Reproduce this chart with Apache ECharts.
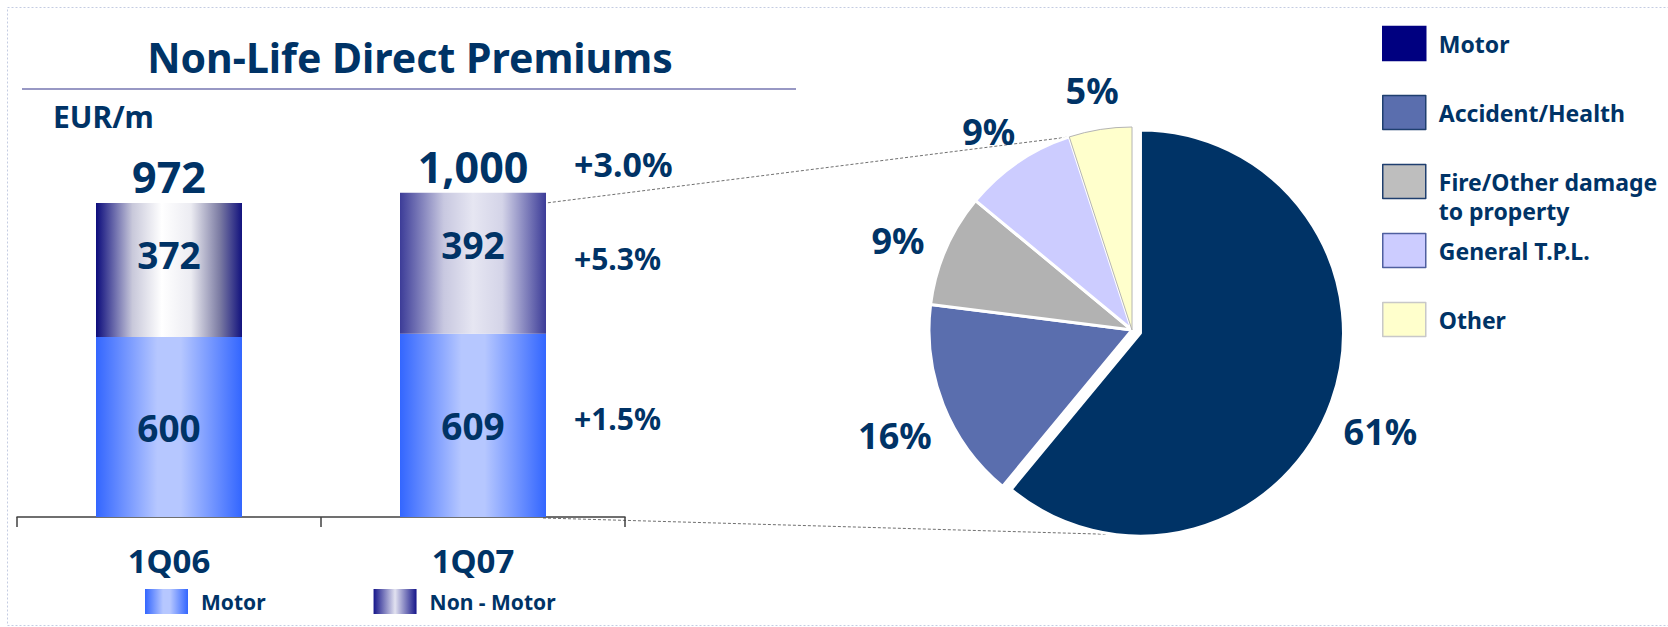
<!DOCTYPE html>
<html>
<head>
<meta charset="utf-8">
<title>Non-Life Direct Premiums</title>
<script src="https://cdn.jsdelivr.net/npm/echarts@6/dist/echarts.min.js"></script>
<style>
  html, body { margin: 0; padding: 0; background: #ffffff; }
  #chart { width: 1668px; height: 627px; }
</style>
</head>
<body>
<div id="chart"></div>
<script>
// Quarterly premiums, EUR million
const categories = ['1Q06', '1Q07'];
const motorPremiums = [600, 609];
const nonMotorPremiums = [372, 392];
const totalPremiums = [972, 1000];
// Year-on-year growth for 1Q07: motor, non-motor, total
const growthLabels = ['+1.5%', '+5.3%', '+3.0%'];

// 1Q07 business mix (% of premiums)
const lineNames = ['Motor', 'Accident/Health', 'Fire/Other damage\nto property', 'General T.P.L.', 'Other'];
const lineShares = [61, 16, 9, 9, 5];

const NAVY = '#003366';
const FONT = '"Noto Sans", "DejaVu Sans", sans-serif';

const pieColors = ['#003366', '#5a6eae', '#b2b2b2', '#ccccff', '#ffffcc'];
const pieLegendColors = ['#000080', '#5a6eae', '#bebebe', '#ccccff', '#ffffcc'];
const pieLegendBorders = ['#000080', '#1f3f6f', '#1f3f6f', '#4f5f9f', '#c8c8c8'];

const grad = (stops) => new echarts.graphic.LinearGradient(0, 0, 1, 0,
  stops.map(([offset, color]) => ({ offset, color })));

const motorFill = grad([[0, '#3366ff'], [0.42, '#b6c7ff'], [0.58, '#b6c7ff'], [1, '#3366ff']]);
const nonMotorFillA = grad([[0, '#0c0c7c'], [0.25, '#c8c8da'], [0.45, '#ffffff'], [0.65, '#ececf2'], [0.85, '#7a7aa2'], [1, '#12127e']]);
const nonMotorFillB = grad([[0, '#3c3c98'], [0.3, '#c8c8e0'], [0.5, '#e6e6f2'], [0.7, '#d4d4e8'], [1, '#3c3c98']]);
const nonMotorLegendFill = grad([[0, '#16168a'], [0.5, '#e2e2f0'], [1, '#16168a']]);
const nonMotorFills = [nonMotorFillA, nonMotorFillB];

const PIE_CENTER = [1132, 330];
const PIE_R = 203;
const PIE_OFFSET = 9;
// percentage labels sit on a ring just outside the pie
const LABEL_CENTER = [1132, 342];
const LABEL_RADIUS = 252;

// Pie legend rows: each row's text box is padded to the same height so that
// the two-line entry does not push the rows below it; rows are 69px apart.
// A multi-line entry starts with a blank line so its first line sits level
// with the swatch.
const LEGEND_ROW_BOX = 87;
const LEGEND_LINE = 29;
const legendText = (name) => (name.indexOf('\n') >= 0 ? '\n' + name : name);
const legendPadding = (name) => {
  const lines = legendText(name).split('\n').length;
  const pad = (LEGEND_ROW_BOX - LEGEND_LINE * lines) / 2;
  return [pad, 0, pad, 8];
};

const chart = echarts.init(document.getElementById('chart'), null, { renderer: 'svg' });

const textBase = { fontFamily: FONT, fontWeight: 'bold', color: NAVY };

const option = {
  animation: false,
  backgroundColor: '#ffffff',
  grid: { left: 17, top: 157, width: 608, height: 360, containLabel: false },
  xAxis: {
    type: 'category',
    data: categories,
    axisLine: { lineStyle: { color: '#404040', width: 1.5 } },
    axisTick: { show: true, length: 10, interval: 0, lineStyle: { color: '#404040', width: 1.5 } },
    axisLabel: Object.assign({ margin: 27, fontSize: 33 }, textBase)
  },
  yAxis: {
    type: 'value', min: 100, max: 1100, show: false,
    splitLine: { show: false }
  },
  legend: [
    {
      data: ['Motor', 'Non - Motor'],
      left: 145, top: 589, padding: 0,
      itemWidth: 43, itemHeight: 25, itemGap: 108,
      icon: 'rect', selectedMode: false,
      textStyle: Object.assign({ fontSize: 21, padding: [0, 0, 0, 8] }, textBase)
    },
    {
      orient: 'vertical',
      left: 1382, top: 0, padding: 0,
      itemWidth: 43, itemHeight: 34, itemGap: 69 - LEGEND_ROW_BOX,
      icon: 'rect', selectedMode: false,
      formatter: legendText,
      data: lineNames.map((name, i) => ({
        name,
        itemStyle: { color: pieLegendColors[i], borderColor: pieLegendBorders[i], borderWidth: 1.5 },
        textStyle: { padding: legendPadding(name) }
      })),
      textStyle: Object.assign({ fontSize: 23, lineHeight: LEGEND_LINE }, textBase)
    }
  ],
  series: [
    {
      name: 'Motor', type: 'bar', stack: 'premiums', barWidth: 146,
      data: motorPremiums,
      itemStyle: { color: motorFill },
      label: Object.assign({ show: true, position: 'inside', fontSize: 37 }, textBase),
      emphasis: { disabled: true }
    },
    {
      name: 'Non - Motor', type: 'bar', stack: 'premiums', barWidth: 146,
      data: nonMotorPremiums.map((v, i) => ({ value: v, itemStyle: { color: nonMotorFills[i] } })),
      itemStyle: { color: nonMotorLegendFill },
      label: Object.assign({ show: true, position: 'insideTop', distance: 33, fontSize: 37 }, textBase),
      emphasis: { disabled: true }
    },
    {
      name: 'Total', type: 'bar', stack: 'premiums', barWidth: 146,
      data: totalPremiums.map(() => 0),
      itemStyle: { color: 'rgba(0,0,0,0)' },
      label: Object.assign({
        show: true, position: 'top', distance: 5, fontSize: 43,
        formatter: (p) => totalPremiums[p.dataIndex].toLocaleString('en-US')
      }, textBase),
      emphasis: { disabled: true }
    },
    {
      name: 'Business mix', type: 'pie',
      center: PIE_CENTER, radius: PIE_R,
      startAngle: 90, clockwise: true,
      selectedMode: 'single', selectedOffset: PIE_OFFSET,
      avoidLabelOverlap: false,
      label: { show: false }, labelLine: { show: false },
      emphasis: { disabled: true },
      itemStyle: { borderColor: '#ffffff', borderWidth: 3 },
      data: lineShares.map((v, i) => ({
        name: lineNames[i], value: v, selected: i === 0,
        itemStyle: i === lineShares.length - 1
          ? { color: pieColors[i], borderColor: '#b4b4b4', borderWidth: 1 }
          : { color: pieColors[i] }
      }))
    },
    {
      name: 'Business mix labels', type: 'pie', silent: true,
      center: LABEL_CENTER, radius: [LABEL_RADIUS - 40, LABEL_RADIUS + 40],
      startAngle: 90, clockwise: true,
      selectedMode: 'single', selectedOffset: PIE_OFFSET,
      avoidLabelOverlap: false,
      itemStyle: { color: 'rgba(0,0,0,0)', borderWidth: 0 },
      labelLine: { show: false },
      label: Object.assign({
        show: true, position: 'inside', fontSize: 36,
        formatter: (p) => p.value + '%'
      }, textBase),
      emphasis: { disabled: true },
      data: lineShares.map((v, i) => ({ name: lineNames[i], value: v, selected: i === 0 }))
    }
  ]
};

chart.setOption(option);

// Annotations positioned from the bar chart's own scales and the pie geometry
const toPx = (cat, val) => chart.convertToPixel({ gridIndex: 0 }, [cat, val]);
const last = categories.length - 1;
const barHalf = 146 / 2;
const motorTop = toPx(last, motorPremiums[last]);
const stackTop = toPx(last, motorPremiums[last] + nonMotorPremiums[last]);
const base = toPx(last, 100);
const barRight = motorTop[0] + barHalf;
const growthX = barRight + 28;

const deg = Math.PI / 180;
const otherStart = (1 - lineShares[lineShares.length - 1] / 100) * 360;
const pieTopCorner = [
  PIE_CENTER[0] + PIE_R * Math.sin(otherStart * deg),
  PIE_CENTER[1] - PIE_R * Math.cos(otherStart * deg)
];
const motorMid = (lineShares[0] / 100) * 180;
const motorCenter = [
  PIE_CENTER[0] + PIE_OFFSET * Math.sin(motorMid * deg),
  PIE_CENTER[1] - PIE_OFFSET * Math.cos(motorMid * deg)
];
const bottomAngle = 187;
const pieBottom = [
  motorCenter[0] + PIE_R * Math.sin(bottomAngle * deg),
  motorCenter[1] - PIE_R * Math.cos(bottomAngle * deg)
];

const boldFont = (size) => 'bold ' + size + 'px ' + FONT;

chart.setOption({
  graphic: [
    {
      // frame: top, left and bottom edges (right edge runs past the page)
      type: 'rect', silent: true, z: -1,
      shape: { x: 7.5, y: 7.5, width: 1670, height: 618 },
      style: { fill: 'none', stroke: '#c4cce2', lineWidth: 1, lineDash: [2, 2] }
    },
    {
      type: 'text', silent: true,
      style: { x: 410, y: 57, text: 'Non-Life Direct Premiums', font: boldFont(41), fill: NAVY, textAlign: 'center', textVerticalAlign: 'middle' }
    },
    {
      type: 'line', silent: true,
      shape: { x1: 22, y1: 89, x2: 796, y2: 89 },
      style: { stroke: '#9898c4', lineWidth: 2 }
    },
    {
      type: 'text', silent: true,
      style: { x: 53, y: 116, text: 'EUR/m', font: boldFont(30), fill: NAVY, textAlign: 'left', textVerticalAlign: 'middle' }
    },
    {
      type: 'text', silent: true,
      style: { x: growthX, y: (base[1] + motorTop[1]) / 2 - 7, text: growthLabels[0], font: boldFont(30), fill: NAVY, textAlign: 'left', textVerticalAlign: 'middle' }
    },
    {
      type: 'text', silent: true,
      style: { x: growthX, y: (motorTop[1] + stackTop[1]) / 2 - 5, text: growthLabels[1], font: boldFont(30), fill: NAVY, textAlign: 'left', textVerticalAlign: 'middle' }
    },
    {
      type: 'text', silent: true,
      style: { x: growthX, y: stackTop[1] - 29, text: growthLabels[2], font: boldFont(34), fill: NAVY, textAlign: 'left', textVerticalAlign: 'middle' }
    },
    {
      type: 'line', silent: true,
      shape: { x1: barRight - 13, y1: stackTop[1] + 12, x2: pieTopCorner[0], y2: pieTopCorner[1] },
      style: { stroke: '#707070', lineWidth: 1, lineDash: [3, 2] }
    },
    {
      type: 'line', silent: true,
      shape: { x1: barRight - 3, y1: base[1] + 1, x2: pieBottom[0], y2: pieBottom[1] },
      style: { stroke: '#707070', lineWidth: 1, lineDash: [3, 2] }
    }
  ]
});
</script>
</body>
</html>
